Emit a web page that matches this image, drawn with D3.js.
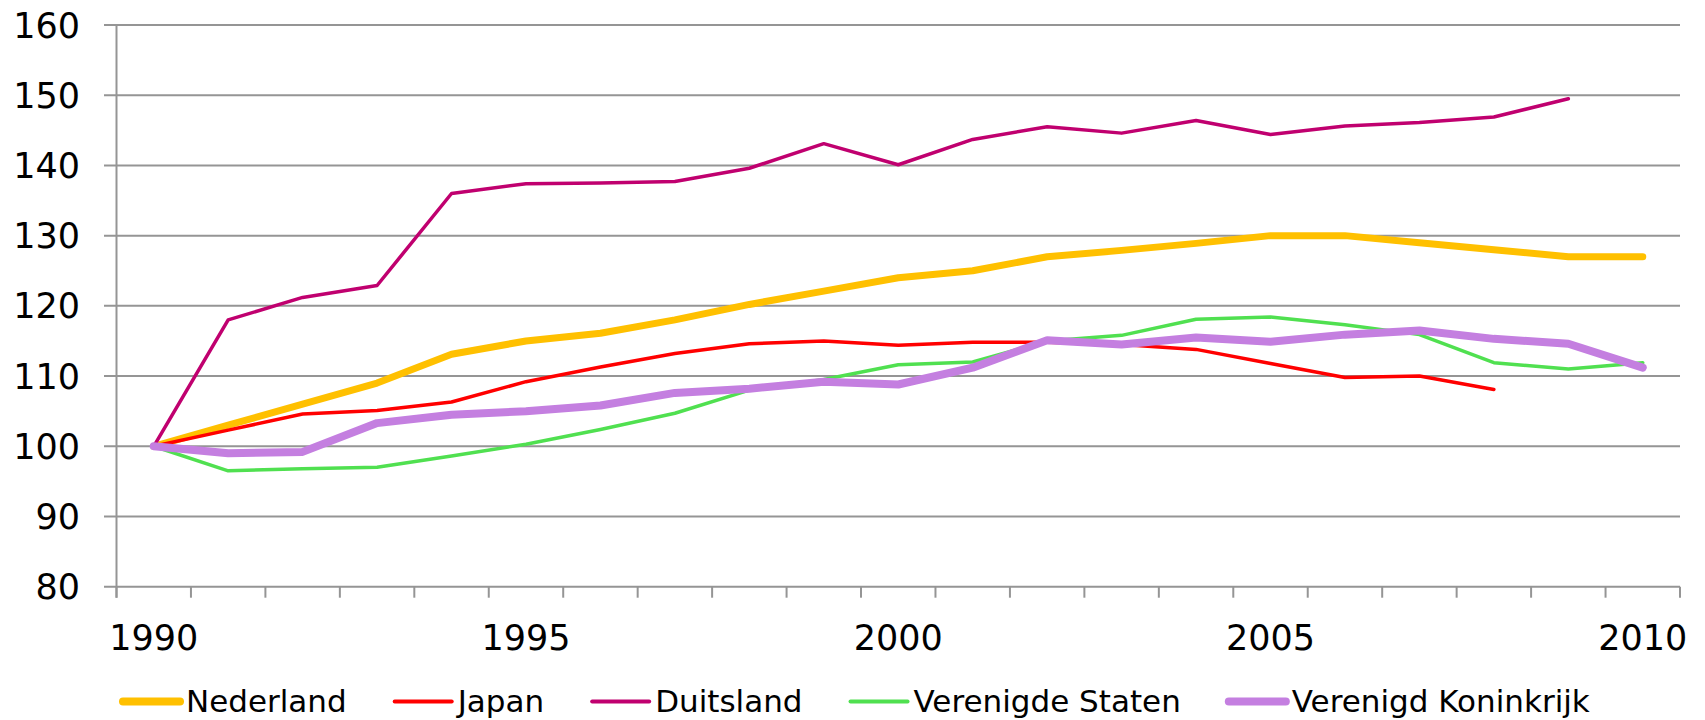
<!DOCTYPE html>
<html><head><meta charset="utf-8">
<script src="https://cdn.jsdelivr.net/npm/d3@7/dist/d3.min.js"></script>
<style>html,body{margin:0;padding:0;background:#fff;}svg{display:block;font-family:"DejaVu Sans",Verdana,sans-serif;}</style>
</head><body><svg id="c" width="1705" height="720"></svg>
<script>
const years = d3.range(1990, 2011);
const yTicks = [80, 90, 100, 110, 120, 130, 140, 150, 160];
const xLabelYears = [1990, 1995, 2000, 2005, 2010];
const seriesNames = ["Nederland", "Japan", "Duitsland", "Verenigde Staten", "Verenigd Koninkrijk"];
const nederland = [100, 103, 106, 109, 113.1, 115.0, 116.1, 118.0, 120.2, 122.1, 124.0, 125.0, 127.0, 127.9, 128.9, 130.0, 130.0, 129.0, 128.0, 127.0, 127.0];
const japan = [100, 102.3, 104.6, 105.1, 106.3, 109.2, 111.3, 113.2, 114.6, 115.0, 114.4, 114.8, 114.8, 114.5, 113.8, 111.8, 109.8, 110.0, 108.1, null, null];
const duitsland = [100, 118.0, 121.2, 122.9, 136.0, 137.4, 137.5, 137.7, 139.6, 143.1, 140.1, 143.7, 145.5, 144.6, 146.4, 144.4, 145.6, 146.1, 146.9, 149.5, null];
const verenigdeStaten = [100, 96.5, 96.8, 97.0, 98.6, 100.3, 102.4, 104.7, 108.0, 109.5, 111.6, 112.0, 115.0, 115.8, 118.1, 118.4, 117.3, 115.9, 111.9, 111.0, 111.9];
const verenigdKoninkrijk = [100, 99.0, 99.2, 103.3, 104.5, 105.0, 105.8, 107.6, 108.2, 109.2, 108.8, 111.2, 115.1, 114.5, 115.5, 114.9, 115.9, 116.5, 115.3, 114.6, 111.2];

const seriesValues = [nederland, japan, duitsland, verenigdeStaten, verenigdKoninkrijk];
const colors = ["#FFC000", "#FF0000", "#C0006F", "#50E050", "#C47FE0"];
const widths = [7, 3.5, 3.5, 3.5, 8];

const svg = d3.select("#c");
const L = 116.5, R = 1680, T = 25, B = 586.7;
const band = d3.scaleBand().domain(years).range([L, R]).padding(0);
const x = d3.scalePoint().domain(years).range([L, R]).padding(0.5);
const y = d3.scaleLinear().domain([80, 160]).range([B, T]);
const grid = "#959595";

svg.append("g").selectAll("line").data(yTicks).join("line")
  .attr("x1", 104).attr("x2", R).attr("y1", d => y(d)).attr("y2", d => y(d))
  .attr("stroke", grid).attr("stroke-width", 2);
svg.append("line").attr("x1", L).attr("x2", L).attr("y1", T).attr("y2", B + 11)
  .attr("stroke", grid).attr("stroke-width", 2);
const boundaries = years.map(d => band(d)).concat([R]);
svg.append("g").selectAll("line").data(boundaries).join("line")
  .attr("x1", d => d).attr("x2", d => d).attr("y1", B).attr("y2", B + 11)
  .attr("stroke", grid).attr("stroke-width", 2);

svg.append("g").selectAll("text").data(yTicks).join("text")
  .attr("x", 80).attr("y", d => y(d)).attr("dy", "0.36em")
  .attr("text-anchor", "end").attr("font-size", 35).attr("fill", "#000")
  .text(d => d);
svg.append("g").selectAll("text").data(xLabelYears).join("text")
  .attr("x", d => x(d)).attr("y", 650)
  .attr("text-anchor", "middle").attr("font-size", 35).attr("fill", "#000")
  .text(d => d);

const line = d3.line().defined(d => d[1] != null).x(d => x(d[0])).y(d => y(d[1]));
seriesValues.forEach((vals, i) => {
  const pts = years.map((yr, k) => [yr, vals[k]]);
  svg.append("path").datum(pts).attr("d", line)
    .attr("fill", "none").attr("stroke", colors[i]).attr("stroke-width", widths[i])
    .attr("stroke-linejoin", "round").attr("stroke-linecap", "round");
});

const lg = svg.append("g");
let cx = 0;
seriesNames.forEach((name, i) => {
  const g = lg.append("g");
  g.append("line").attr("x1", cx).attr("x2", cx + 57).attr("y1", 701.5).attr("y2", 701.5)
    .attr("stroke", colors[i]).attr("stroke-width", widths[i] >= 7 ? 8 : 4).attr("stroke-linecap", "round");
  const t = g.append("text").attr("x", cx + 63).attr("y", 712).attr("font-size", 31).attr("fill", "#000").text(name);
  const w = t.node().getComputedTextLength();
  cx += 63 + w + 48;
});
const total = cx - 48;
lg.attr("transform", `translate(${123},0)`);
</script></body></html>
